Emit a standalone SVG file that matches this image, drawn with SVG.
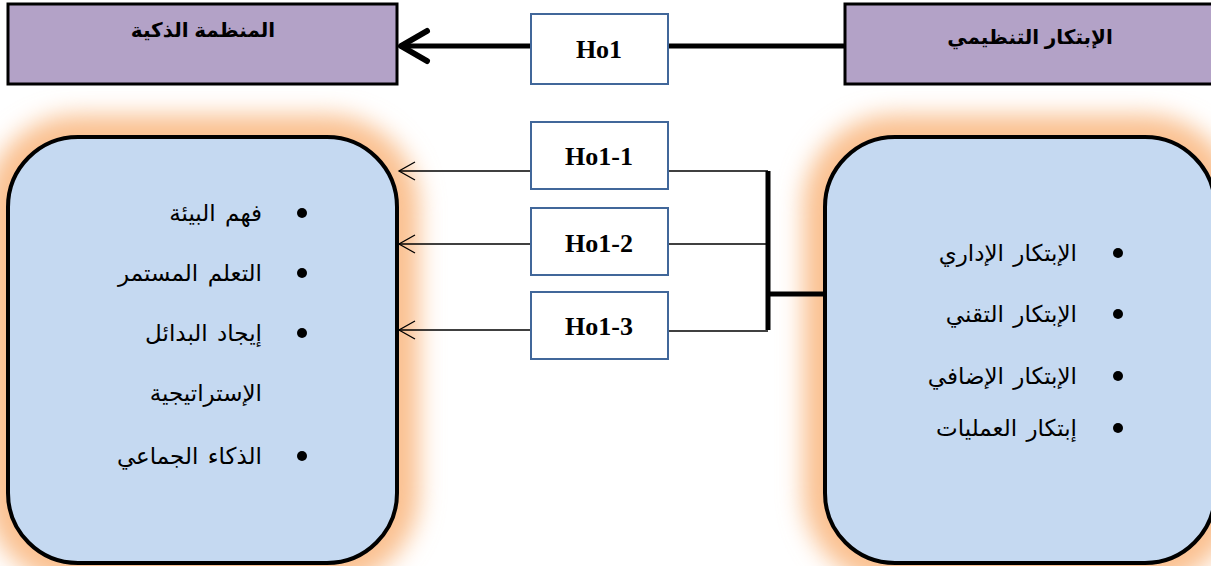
<svg xmlns="http://www.w3.org/2000/svg" width="1211" height="566" viewBox="0 0 1211 566">
<defs>
<style>
.head{fill:#b3a2c7;stroke:#000;stroke-width:3}
.htxt{font-family:"Liberation Sans","DejaVu Sans",sans-serif;font-weight:bold;font-size:20px;fill:#000;text-anchor:middle}
.hbox{fill:#fff;stroke:#41679a;stroke-width:2}
.hlab{font-family:"Liberation Serif","DejaVu Serif",serif;font-weight:bold;font-size:26px;fill:#000;text-anchor:middle}
.panel{fill:#c5d9f1;stroke:#000;stroke-width:4}
.glow{fill:none;stroke:#fac08f;stroke-width:44}
.item{font-family:"Liberation Sans","DejaVu Sans",sans-serif;font-size:23px;word-spacing:3px;fill:#000;text-anchor:end}
.bul{fill:#000}
.thin{stroke:#000;stroke-width:1.3;fill:none}
.thick{stroke:#000;stroke-width:5;fill:none}
</style>
<filter id="blur" x="-20%" y="-20%" width="140%" height="140%">
<feGaussianBlur stdDeviation="12"/>
</filter>
<marker id="openThin" markerUnits="userSpaceOnUse" markerWidth="22" markerHeight="22" refX="19" refY="10" orient="auto" viewBox="0 0 22 22">
<path d="M3,1 L19,10 L3,19" fill="none" stroke="#000" stroke-width="1.3"/>
</marker>
<marker id="openThick" markerUnits="userSpaceOnUse" markerWidth="40" markerHeight="40" refX="35" refY="20" orient="auto" viewBox="0 0 40 40">
<path d="M9,5 L35,20 L9,35" fill="none" stroke="#000" stroke-width="6" stroke-linecap="round" stroke-linejoin="round"/>
</marker>
</defs>
<rect width="1211" height="566" fill="#fff"/>

<g id="node-smart-org">
<rect class="head" x="8" y="4" width="389" height="80"/>
<text class="htxt" x="203" y="37">المنظمة الذكية</text>
</g>

<g id="node-org-innovation">
<rect class="head" x="845" y="4" width="372" height="80"/>
<text class="htxt" x="1030" y="44">الإبتكار التنظيمي</text>
</g>

<g id="node-left-panel">
<rect class="glow" x="8" y="137" width="389" height="426" rx="70" filter="url(#blur)"/>
<rect class="panel" x="8" y="137" width="389" height="426" rx="70"/>
<circle class="bul" cx="302" cy="213" r="5"/>
<text class="item" x="262" y="221">فهم البيئة</text>
<circle class="bul" cx="302" cy="273" r="5"/>
<text class="item" x="262" y="281">التعلم المستمر</text>
<circle class="bul" cx="302" cy="333" r="5"/>
<text class="item" x="262" y="341">إيجاد البدائل</text>
<text class="item" x="262" y="401">الإستراتيجية</text>
<circle class="bul" cx="302" cy="456" r="5"/>
<text class="item" x="262" y="464">الذكاء الجماعي</text>
</g>

<g id="node-right-panel">
<rect class="glow" x="825" y="137" width="390" height="426" rx="70" filter="url(#blur)"/>
<rect class="panel" x="825" y="137" width="390" height="426" rx="70"/>
<circle class="bul" cx="1118" cy="253" r="5"/>
<text class="item" x="1077" y="261">الإبتكار الإداري</text>
<circle class="bul" cx="1118" cy="314" r="5"/>
<text class="item" x="1077" y="322">الإبتكار التقني</text>
<circle class="bul" cx="1118" cy="376" r="5"/>
<text class="item" x="1077" y="384">الإبتكار الإضافي</text>
<circle class="bul" cx="1118" cy="428" r="5"/>
<text class="item" x="1077" y="436">إبتكار العمليات</text>
</g>

<g id="connectors">
<line class="thick" x1="530" y1="46" x2="401" y2="46" stroke-width="6" marker-end="url(#openThick)"/>
<line class="thick" x1="668" y1="46" x2="845" y2="46" stroke-width="6"/>
<line class="thin" x1="530" y1="171" x2="399" y2="171" marker-end="url(#openThin)"/>
<line class="thin" x1="530" y1="244" x2="399" y2="244" marker-end="url(#openThin)"/>
<line class="thin" x1="530" y1="330" x2="399" y2="330" marker-end="url(#openThin)"/>
<line class="thin" x1="668" y1="171" x2="768" y2="171"/>
<line class="thin" x1="668" y1="244" x2="768" y2="244"/>
<line class="thin" x1="668" y1="331" x2="768" y2="331"/>
<line class="thick" x1="768" y1="171" x2="768" y2="330"/>
<line class="thick" x1="768" y1="294" x2="825" y2="294"/>
</g>

<g id="node-ho1">
<rect class="hbox" x="531" y="14" width="137" height="70"/>
<text class="hlab" x="599" y="58">Ho1</text>
</g>
<g id="node-ho1-1">
<rect class="hbox" x="531" y="122" width="137" height="67"/>
<text class="hlab" x="599" y="165">Ho1-1</text>
</g>
<g id="node-ho1-2">
<rect class="hbox" x="531" y="208" width="137" height="67"/>
<text class="hlab" x="599" y="252">Ho1-2</text>
</g>
<g id="node-ho1-3">
<rect class="hbox" x="531" y="292" width="137" height="67"/>
<text class="hlab" x="599" y="335">Ho1-3</text>
</g>
</svg>
